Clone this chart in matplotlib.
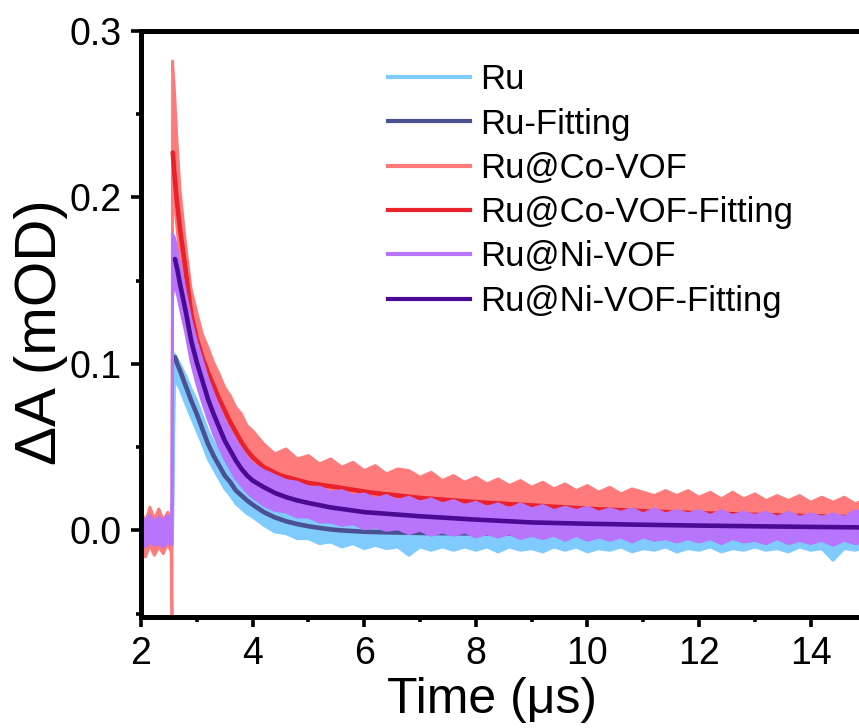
import matplotlib
matplotlib.use("Agg")
import matplotlib.pyplot as plt
import numpy as np
from matplotlib.lines import Line2D

# time grid of the measured traces (us)
t_head = [2.00, 2.08, 2.16, 2.24, 2.32, 2.40, 2.48, 2.54, 2.556, 2.566, 2.60, 2.65, 2.70,
          2.80, 2.90, 3.00, 3.10, 3.20, 3.30, 3.40, 3.50, 3.60, 3.70, 3.80, 3.90, 4.00]
t_tail = np.round(np.arange(4.2, 15.01, 0.2), 2)
t_raw = np.concatenate([t_head, t_tail])

# measured traces: upper / lower edge of the noise band (mOD)
ru_hi = [0.007, 0.005, 0.008, 0.006, 0.007, 0.005, 0.008, 0.006, 0.006, 0.008, 0.106, 0.103, 0.100,
         0.093, 0.085, 0.078, 0.069, 0.060, 0.053, 0.047, 0.041, 0.036, 0.031, 0.028, 0.025, 0.022,
         0.018, 0.015, 0.012, 0.011, 0.009, 0.009, 0.007, 0.007, 0.005, 0.006, 0.004, 0.006, 0.004,
         0.005, 0.003, 0.005, 0.003, 0.005, 0.003, 0.005, 0.003, 0.005, 0.003, 0.005, 0.003, 0.005,
         0.003, 0.005, 0.003, 0.005, 0.003, 0.005, 0.003, 0.005, 0.003, 0.005, 0.003, 0.005, 0.003,
         0.005, 0.003, 0.005, 0.003, 0.005, 0.003, 0.005, 0.003, 0.005, 0.003, 0.005, 0.003, 0.005,
         0.003, 0.005, 0.004]
ru_lo = [-0.010, -0.008, -0.009, -0.010, -0.008, -0.010, -0.008, -0.009, -0.009, -0.008, 0.088, 0.088, 0.085,
         0.076, 0.068, 0.060, 0.052, 0.043, 0.037, 0.031, 0.025, 0.021, 0.016, 0.013, 0.010, 0.008,
         0.003, -0.001, -0.002, -0.005, -0.005, -0.008, -0.007, -0.010, -0.008, -0.011, -0.009, -0.011, -0.010,
         -0.015, -0.010, -0.012, -0.010, -0.012, -0.010, -0.012, -0.010, -0.013, -0.010, -0.012, -0.011, -0.013,
         -0.010, -0.012, -0.010, -0.013, -0.011, -0.012, -0.010, -0.013, -0.011, -0.012, -0.010, -0.013, -0.011,
         -0.012, -0.010, -0.013, -0.011, -0.012, -0.010, -0.012, -0.011, -0.013, -0.010, -0.012, -0.011, -0.018,
         -0.011, -0.012, -0.010]

co_hi = [0.012, 0.005, 0.014, 0.007, 0.013, 0.006, 0.011, 0.006, 0.004, 0.282, 0.265, 0.232, 0.205,
         0.172, 0.145, 0.131, 0.118, 0.110, 0.101, 0.094, 0.086, 0.081, 0.074, 0.070, 0.063, 0.060,
         0.052, 0.046, 0.049, 0.043, 0.045, 0.040, 0.043, 0.038, 0.041, 0.036, 0.039, 0.034, 0.037,
         0.036, 0.032, 0.035, 0.030, 0.033, 0.029, 0.032, 0.028, 0.031, 0.027, 0.030, 0.026, 0.029,
         0.025, 0.028, 0.024, 0.027, 0.023, 0.026, 0.022, 0.025, 0.023, 0.021, 0.024, 0.021, 0.024,
         0.020, 0.023, 0.019, 0.023, 0.019, 0.022, 0.018, 0.021, 0.018, 0.021, 0.017, 0.020, 0.017,
         0.020, 0.016, 0.019]
co_lo = [-0.012, -0.016, -0.009, -0.015, -0.010, -0.014, -0.008, -0.013, -0.052, 0.210, 0.196, 0.180, 0.160,
         0.140, 0.118, 0.103, 0.092, 0.083, 0.075, 0.068, 0.061, 0.055, 0.050, 0.044, 0.038, 0.034,
         0.026, 0.022, 0.019, 0.019, 0.016, 0.017, 0.014, 0.015, 0.012, 0.013, 0.010, 0.011, 0.008,
         0.010, 0.007, 0.008, 0.006, 0.007, 0.004, 0.006, 0.004, 0.005, 0.003, 0.004, 0.002, 0.004,
         0.002, 0.003, 0.001, 0.002, 0.000, 0.002, -0.001, 0.001, -0.001, 0.000, -0.002, 0.000, -0.002,
         -0.001, -0.003, -0.001, -0.003, -0.002, -0.004, -0.002, -0.004, -0.002, -0.004, -0.003, -0.005, -0.003,
         -0.005, -0.003, -0.005]

ni_hi = [0.008, 0.006, 0.009, 0.005, 0.008, 0.006, 0.009, 0.006, 0.020, 0.178, 0.176, 0.168, 0.160,
         0.143, 0.126, 0.113, 0.102, 0.091, 0.082, 0.074, 0.066, 0.060, 0.054, 0.049, 0.044, 0.040,
         0.036, 0.033, 0.030, 0.029, 0.026, 0.026, 0.023, 0.024, 0.021, 0.022, 0.019, 0.021, 0.018,
         0.020, 0.017, 0.019, 0.016, 0.018, 0.015, 0.017, 0.014, 0.016, 0.013, 0.016, 0.013, 0.015,
         0.012, 0.014, 0.012, 0.014, 0.011, 0.013, 0.011, 0.013, 0.010, 0.013, 0.010, 0.012, 0.010,
         0.012, 0.009, 0.012, 0.009, 0.011, 0.009, 0.011, 0.008, 0.011, 0.008, 0.010, 0.008, 0.010,
         0.008, 0.012, 0.009]
ni_lo = [-0.008, -0.010, -0.007, -0.009, -0.008, -0.010, -0.007, -0.009, -0.008, 0.140, 0.148, 0.142, 0.134,
         0.119, 0.101, 0.088, 0.077, 0.067, 0.058, 0.050, 0.043, 0.037, 0.031, 0.027, 0.023, 0.020,
         0.015, 0.012, 0.011, 0.008, 0.008, 0.005, 0.005, 0.003, 0.004, 0.001, 0.002, 0.000, 0.001,
         -0.002, 0.000, -0.003, -0.001, -0.003, -0.001, -0.004, -0.002, -0.004, -0.002, -0.005, -0.003, -0.005,
         -0.003, -0.006, -0.003, -0.006, -0.004, -0.006, -0.004, -0.007, -0.004, -0.006, -0.005, -0.007, -0.005,
         -0.007, -0.005, -0.008, -0.005, -0.007, -0.006, -0.008, -0.005, -0.008, -0.006, -0.008, -0.006, -0.009,
         -0.006, -0.008, -0.007]

# fitted curves
ru_fit_t = [2.61, 2.65, 2.70, 2.80, 2.90, 3.00, 3.10, 3.20, 3.30, 3.40, 3.50, 3.60, 3.70, 3.80, 3.90,
            4.00, 4.20, 4.40, 4.60, 4.80, 5.00, 5.20, 5.40, 5.60, 5.80, 6.00, 6.50, 7.00, 8.00, 10.0, 12.0, 15.0]
ru_fit = [0.104, 0.100, 0.096, 0.087, 0.078, 0.070, 0.061, 0.052, 0.045, 0.039, 0.033, 0.029, 0.024, 0.021, 0.018,
          0.0155, 0.011, 0.0078, 0.0055, 0.0038, 0.0025, 0.0015, 0.0006, 0.0, -0.0004, -0.0008, -0.0012, -0.0015,
          -0.0018, -0.002, -0.002, -0.002]

co_fit_t = [2.57, 2.60, 2.64, 2.70, 2.79, 2.90, 3.00, 3.10, 3.20, 3.30, 3.40, 3.50, 3.60, 3.70, 3.80, 3.90,
            4.00, 4.20, 4.50, 5.00, 5.50, 6.10, 7.00, 8.00, 9.00, 10.0, 11.0, 12.0, 13.0, 14.0, 15.0]
co_fit = [0.227, 0.214, 0.199, 0.181, 0.159, 0.130, 0.115, 0.104, 0.095, 0.087, 0.079, 0.072, 0.065, 0.059, 0.053,
          0.048, 0.044, 0.038, 0.033, 0.0285, 0.026, 0.0228, 0.0195, 0.017, 0.015, 0.013, 0.0115, 0.0103, 0.0093,
          0.0085, 0.0078]

ni_fit_t = [2.61, 2.65, 2.70, 2.80, 2.90, 3.00, 3.10, 3.20, 3.30, 3.40, 3.50, 3.60, 3.70, 3.80, 3.90, 4.00,
            4.20, 4.40, 4.60, 4.80, 5.00, 5.40, 6.00, 7.00, 8.00, 9.00, 10.0, 11.0, 12.0, 13.0, 14.0, 15.0]
ni_fit = [0.163, 0.157, 0.148, 0.132, 0.114, 0.101, 0.090, 0.079, 0.070, 0.062, 0.054, 0.048, 0.042, 0.037, 0.033,
          0.030, 0.026, 0.0225, 0.020, 0.018, 0.0165, 0.0138, 0.011, 0.0085, 0.0065, 0.0048, 0.004, 0.0034, 0.0029,
          0.0025, 0.0021, 0.0018]

labels = ["Ru", "Ru-Fitting", "Ru@Co-VOF", "Ru@Co-VOF-Fitting", "Ru@Ni-VOF", "Ru@Ni-VOF-Fitting"]
colors = ["#80cbfd", "#4b5093", "#ff7b7b", "#e8212b", "#b874fb", "#4a0a94"]

plt.rcParams["font.family"] = ["Liberation Sans", "DejaVu Sans"]

fig = plt.figure(figsize=(8.59, 7.28), dpi=100)
ax = fig.add_axes([0.1641, 0.1525, 0.8447, 0.8049])

bands = [(ru_hi, ru_lo), (co_hi, co_lo), (ni_hi, ni_lo)]
fits = [(ru_fit_t, ru_fit), (co_fit_t, co_fit), (ni_fit_t, ni_fit)]
for i in range(3):
    hi, lo = bands[i]
    c = colors[2 * i]
    z = 2 + 2 * i
    ax.fill_between(t_raw, lo, hi, color=c, lw=0, zorder=z)
    ax.plot(t_raw, hi, color=c, lw=2, zorder=z)
    ax.plot(t_raw, lo, color=c, lw=2, zorder=z)
    ft, fv = fits[i]
    ax.plot(ft, fv, color=colors[2 * i + 1], lw=3.3, solid_capstyle="round", zorder=z + 1)

ax.set_xlim(2, 15)
ax.set_ylim(-0.052, 0.3)
ax.set_xticks([2, 4, 6, 8, 10, 12, 14])
ax.set_xticks(np.arange(3, 15, 2), minor=True)
ax.set_yticks([0.0, 0.1, 0.2, 0.3])
ax.set_yticks([-0.05, 0.05, 0.15, 0.25], minor=True)
ax.set_yticklabels(["0.0", "0.1", "0.2", "0.3"])

for s in ax.spines.values():
    s.set_linewidth(3.6)
    s.set_zorder(20)
ax.tick_params(which="major", direction="out", length=7, width=2.6, labelsize=27, pad=7,
               top=False, right=False)
ax.tick_params(which="minor", direction="out", length=3.8, width=2.6, top=False, right=False)

ax.set_xlabel("Time (μs)", fontsize=36, va="top")
ax.xaxis.set_label_coords(0.484, -0.102)
ax.set_ylabel("ΔA (mOD)", fontsize=42)
ax.yaxis.set_label_coords(-0.100, 0.486)

handles = [Line2D([], [], color=c, lw=3) for c in colors]
ax.legend(handles, labels, loc="upper left", bbox_to_anchor=(0.34, 0.945), frameon=False,
          fontsize=25, handlelength=2.36, handletextpad=0.29, labelspacing=0.325,
          borderpad=0, borderaxespad=0)

fig.savefig("out.png", dpi=100)
